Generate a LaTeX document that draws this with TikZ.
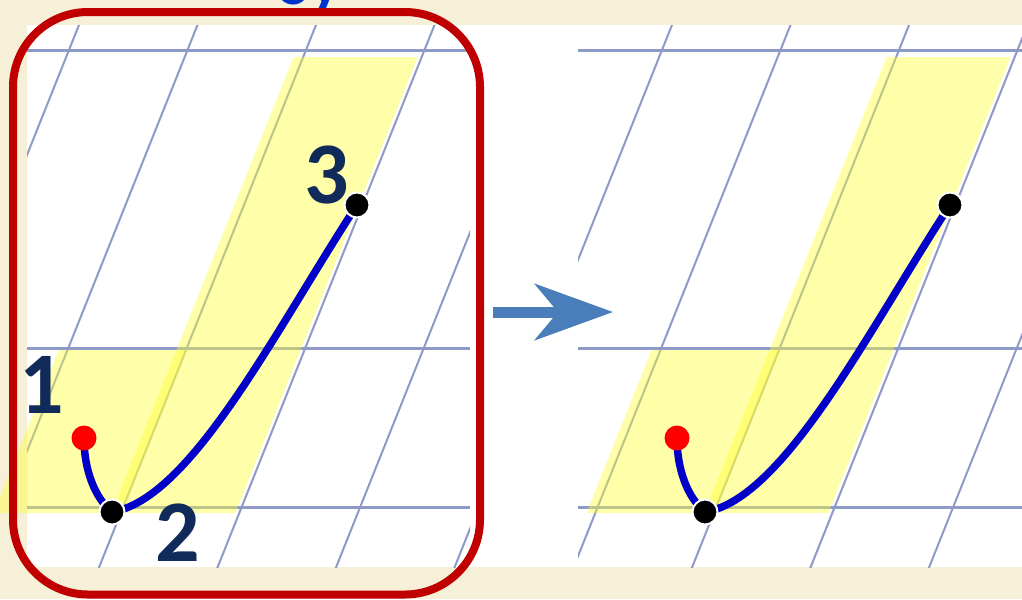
\documentclass[tikz,border=0pt]{standalone}
\usepackage{fontspec}
\newfontfamily\labelfont{Carlito}
\usetikzlibrary{arrows.meta}
\definecolor{paper}{HTML}{F5F0D7}
\definecolor{gridblue}{HTML}{8E9AC8}
\definecolor{hiyellow}{HTML}{FFFF33}
\definecolor{framered}{HTML}{C00000}
\definecolor{inkblue}{HTML}{0000C8}
\definecolor{digitnavy}{HTML}{102A5A}
\definecolor{arrowblue}{HTML}{4A7EBB}
\definecolor{titleblue}{HTML}{0033CC}

\begin{document}
\begin{tikzpicture}[
  x=0.1mm, y=-0.1mm,
  hline/.style={draw=gridblue, line width=0.3mm},
  sline/.style={draw=gridblue, line width=0.2mm},
  band/.style={fill=hiyellow, fill opacity=0.42},
  ink/.style={draw=inkblue, line width=0.75mm, line cap=round, line join=round},
  enddot/.style={circle, fill=black, draw=white, line width=0.2mm, minimum size=2.5mm, inner sep=0pt},
  startdot/.style={circle, fill=red, minimum size=2.5mm, inner sep=0pt},
  num/.style={font=\labelfont\bfseries\fontsize{25}{25}\selectfont, text=digitnavy, inner sep=0pt},
  frame/.style={draw=framered, line width=0.8mm, rounded corners=7.5mm},
  go/.style={draw=arrowblue, line width=1.1mm, -{Stealth[length=7.8mm, width=5.6mm, inset=2.3mm]}}
]
\useasboundingbox (0,0) rectangle (1022,599);
\fill[paper] (0,0) rectangle (1022,599);
\fill[white] (27,25) rectangle (1022,567);

\node[font=\labelfont\bfseries\fontsize{18}{18}\selectfont, text=titleblue, anchor=base west, inner sep=0pt] (title) at (276,4) {оу};

\foreach \dx/\tag/\cl/\cr in {0mm/l/27/470, 59.3mm/r/-15/429} {
  \begin{scope}[xshift=\dx]
    \begin{scope}
      \clip (\cl,25) rectangle (\cr,567);
      \foreach \k in {0,...,5}
        \draw[sline] ({89+118.5*\k},0) -- ({-151+118.5*\k},600);
      \foreach \h in {50,348,507}
        \draw[hline] (\cl,\h) -- (\cr,\h);
    \end{scope}
    \fill[band] (293.7,57) -- (417.7,57) -- (235.3,513) -- (111.3,513) -- cycle;
    \fill[band] (58.7,350) -- (187,350) -- (121.8,513) -- (-6.5,513) -- cycle;
    \coordinate (p1\tag) at (84,438);
    \coordinate (p2\tag) at (112,512);
    \coordinate (p3\tag) at (357,205);
    \draw[ink] (p1\tag) .. controls (84,470) and (95,498) .. (p2\tag)
      .. controls (191,499) and (275,331) .. (p3\tag);
    \node[startdot] (red\tag) at (p1\tag) {};
    \node[enddot] (low\tag) at (p2\tag) {};
    \node[enddot] (high\tag) at (p3\tag) {};
  \end{scope}
}

\node[num] (one) at (42,385) {1};
\node[num] (two) at (178,533) {2};
\node[num] (three) at (327,175) {3};
\draw[frame] (13,12) rectangle (480,594.5);

\coordinate (gostart) at (493,312);
\coordinate (goend) at (613,312);
\draw[go] (gostart) -- (goend);
\end{tikzpicture}
\end{document}
